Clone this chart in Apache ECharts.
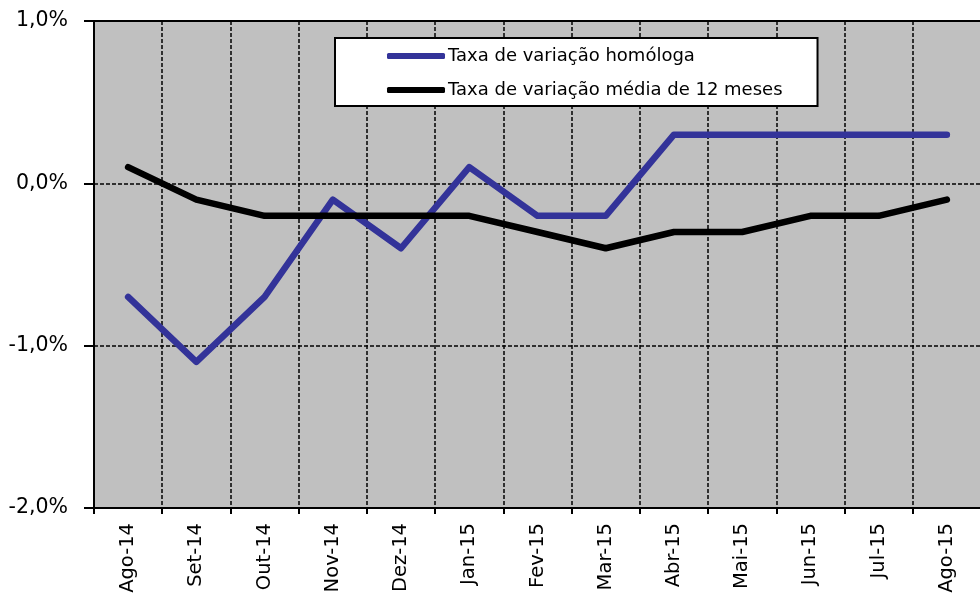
<!DOCTYPE html>
<html>
<head>
<meta charset="utf-8">
<script src="https://cdn.jsdelivr.net/npm/echarts@6/dist/echarts.min.js"></script>
<style>
  html, body { margin: 0; padding: 0; background: #fff; }
  #chart { width: 980px; height: 593px; }
</style>
</head>
<body>
<div id="chart"></div>
<script>
// categorias (meses)
var months = ['Ago-14', 'Set-14', 'Out-14', 'Nov-14', 'Dez-14', 'Jan-15', 'Fev-15',
              'Mar-15', 'Abr-15', 'Mai-15', 'Jun-15', 'Jul-15', 'Ago-15'];
// taxa de variação homóloga (%)
var homologa = [-0.7, -1.1, -0.7, -0.1, -0.4, 0.1, -0.2, -0.2, 0.3, 0.3, 0.3, 0.3, 0.3];
// taxa de variação média de 12 meses (%)
var media12 = [0.1, -0.1, -0.2, -0.2, -0.2, -0.2, -0.3, -0.4, -0.3, -0.3, -0.2, -0.2, -0.1];

var seriesNames = ['Taxa de variação homóloga', 'Taxa de variação média de 12 meses'];
var FONT = 'DejaVu Sans';

var dashed = { color: '#000', width: 1.5, type: [4, 2] };

var chart = echarts.init(document.getElementById('chart'));
chart.setOption({
    animation: false,
    grid: {
        left: 94, right: -1, top: 21, bottom: 85,
        outerBoundsMode: 'none',
        containLabel: false,
        show: true,
        backgroundColor: '#C0C0C0',
        borderColor: '#000',
        borderWidth: 2
    },
    legend: {
        orient: 'vertical',
        left: 335, top: 38,
        padding: [9, 35, 7, 52],
        backgroundColor: '#fff',
        borderColor: '#000',
        borderWidth: 2,
        itemWidth: 58,
        itemHeight: 6,
        itemGap: 16,
        icon: 'roundRect',
        textStyle: { fontFamily: FONT, fontSize: 18, color: '#000', padding: [0, 0, 0, -2] },
        data: seriesNames
    },
    xAxis: {
        type: 'category',
        data: months,
        boundaryGap: true,
        axisLine: { onZero: false, lineStyle: { color: '#000', width: 2 } },
        axisTick: { show: true, length: 6, lineStyle: { color: '#000', width: 2 } },
        splitLine: { show: true, lineStyle: dashed },
        axisLabel: {
            rotate: 90,
            interval: 0,
            margin: 15,
            fontFamily: FONT,
            fontSize: 19.5,
            color: '#000'
        }
    },
    yAxis: {
        type: 'value',
        min: -2, max: 1, interval: 1,
        axisLine: { show: true, lineStyle: { color: '#000', width: 2 } },
        axisTick: { show: true, length: 10, lineStyle: { color: '#000', width: 2 } },
        splitLine: { show: true, lineStyle: dashed },
        axisLabel: {
            margin: 26,
            fontFamily: FONT,
            fontSize: 20.5,
            color: '#000',
            formatter: function (v) { return v.toFixed(1).replace('.', ',') + '%'; }
        }
    },
    series: [
        {
            name: seriesNames[0],
            type: 'line',
            data: homologa,
            symbol: 'none',
            lineStyle: { color: '#333399', width: 6.5, cap: 'round', join: 'round' },
            itemStyle: { color: '#333399' }
        },
        {
            name: seriesNames[1],
            type: 'line',
            data: media12,
            symbol: 'none',
            lineStyle: { color: '#000', width: 6.5, cap: 'round', join: 'round' },
            itemStyle: { color: '#000' }
        }
    ]
});
</script>
</body>
</html>
